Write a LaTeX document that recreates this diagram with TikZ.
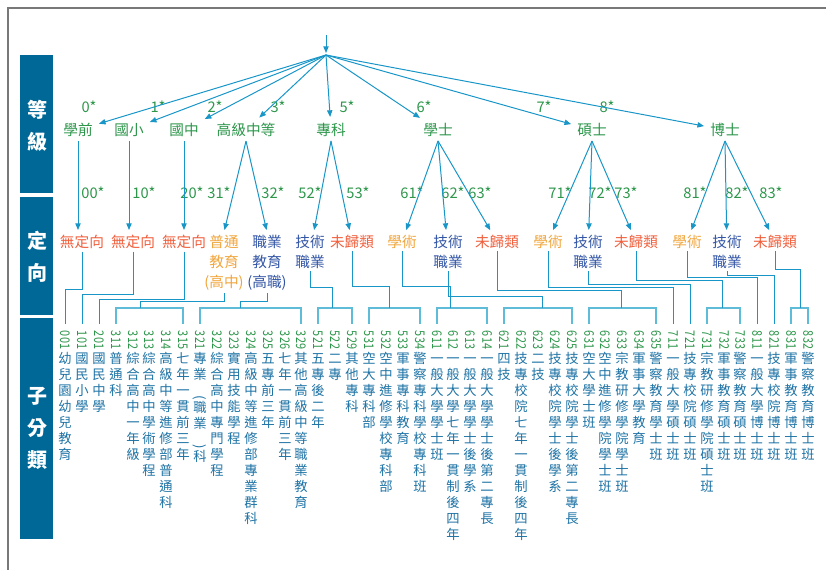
\documentclass[tikz,border=0pt]{standalone}
\usepackage{fontspec}
\setmainfont{Noto Sans CJK TC}
\usetikzlibrary{arrows.meta}

\definecolor{panelblue}{RGB}{0,104,150}
\definecolor{linkblue}{RGB}{25,150,200}
\definecolor{brkblue}{RGB}{95,188,216}
\definecolor{lvgreen}{RGB}{45,150,75}
\definecolor{orired}{RGB}{240,95,60}
\definecolor{oriorange}{RGB}{240,165,60}
\definecolor{oriblue}{RGB}{50,85,165}
\definecolor{subblue}{RGB}{30,115,165}
\definecolor{framegray}{RGB}{120,120,120}

% one character per line, code turned on its side on top
\def\stackloop#1{\ifx\relax#1\else\hbox to 10pt{\vrule height 9.5pt depth 2.5pt width 0pt\hss#1\hss}\expandafter\stackloop\fi}
\newcommand\subtext[2]{\vbox{\offinterlineskip
  \hbox to 10pt{\hss\rotatebox{-90}{\scalebox{0.82}[1]{\color{lvgreen}#1}}\hss}\kern1pt
  \stackloop#2\relax}}

\begin{document}
\begin{tikzpicture}[x=0.75pt,y=0.75pt,yscale=-1,xscale=1,
  lvl/.style={text=lvgreen,font=\fontsize{11}{14}\selectfont,inner sep=3pt},
  star/.style={text=lvgreen,font=\fontsize{11}{14}\selectfont,inner sep=0.75pt},
  ori/.style={anchor=north,align=center,font=\fontsize{11}{15}\selectfont,inner xsep=1pt,inner ysep=2pt},
  subcol/.style={anchor=north,text=subblue,font=\fontsize{10}{12}\selectfont,inner xsep=0pt,inner ysep=5pt},
  side/.style={text=white,align=center,font=\fontsize{15}{24}\selectfont\bfseries},
  arr/.style={draw=linkblue,line width=0.75pt,-{Triangle[length=5pt,width=4pt]},shorten >=1.5pt},
  link/.style={draw=linkblue,line width=0.75pt},
  brk/.style={draw=brkblue,line width=1.1pt}]
\useasboundingbox (0,0) rectangle (826,570);

%Shape: Frame
\draw[framegray,line width=1.2pt] (8,570) -- (8,8) -- (826,8);

%Shape: Side panels
\fill[panelblue] (20,55) rectangle (53,193);
\fill[panelblue] (20,197) rectangle (53,315);
\fill[panelblue] (20,318) rectangle (53,539);
\node[side] (pnlA) at (37,126) {等\\級};
\node[side] (pnlB) at (37,257) {定\\向};
\node[side] (pnlC) at (37,428) {子\\分\\類};

% Levels
\coordinate (top) at (326,35);
\coordinate (root) at (326,55);
\draw[arr] (top) -- (root);

\node[lvl] (lv0) at (78,130) {學前};
\node[lvl] (lv1) at (129,130) {國小};
\node[lvl] (lv2) at (184,130) {國中};
\node[lvl] (lv3) at (246,130) {高級中等};
\node[lvl] (lv5) at (331,130) {專科};
\node[lvl] (lv6) at (438,130) {學士};
\node[lvl] (lv7) at (592,130) {碩士};
\node[lvl] (lv8) at (725,130) {博士};

\node[star] (s0) at (89,107) {0*};
\node[star] (s1) at (158,107) {1*};
\node[star] (s2) at (215,107) {2*};
\node[star] (s3) at (278,107) {3*};
\node[star] (s5) at (347,107) {5*};
\node[star] (s6) at (424,107) {6*};
\node[star] (s7) at (544,107) {7*};
\node[star] (s8) at (607,107) {8*};

\foreach \l in {lv0,lv1,lv2,lv3,lv5,lv6,lv7,lv8}
  \draw[arr] (root) -- (\l);

% Orientations
\node[ori,text=orired] (o00) at (82,232) {無定向};
\node[ori,text=orired] (o10) at (133,232) {無定向};
\node[ori,text=orired] (o20) at (184,232) {無定向};
\node[ori,text=oriorange] (o31) at (224,232) {普通\\教育\\(高中)};
\node[ori,text=oriblue] (o32) at (267,232) {職業\\教育\\(高職)};
\node[ori,text=oriblue] (o52) at (310,232) {技術\\職業};
\node[ori,text=orired] (o53) at (352,232) {未歸類};
\node[ori,text=oriorange] (o61) at (402,232) {學術};
\node[ori,text=oriblue] (o62) at (448,232) {技術\\職業};
\node[ori,text=orired] (o63) at (497,232) {未歸類};
\node[ori,text=oriorange] (o71) at (548,232) {學術};
\node[ori,text=oriblue] (o72) at (588,232) {技術\\職業};
\node[ori,text=orired] (o73) at (636,232) {未歸類};
\node[ori,text=oriorange] (o81) at (687,232) {學術};
\node[ori,text=oriblue] (o82) at (727,232) {技術\\職業};
\node[ori,text=orired] (o83) at (775,232) {未歸類};

\node[star] (s00) at (93,193) {00*};
\node[star] (s10) at (144,193) {10*};
\node[star] (s20) at (192,193) {20*};
\node[star] (s31) at (219,193) {31*};
\node[star] (s32) at (273,193) {32*};
\node[star] (s52) at (310,193) {52*};
\node[star] (s53) at (358,193) {53*};
\node[star] (s61) at (412,193) {61*};
\node[star] (s62) at (453,193) {62*};
\node[star] (s63) at (480,193) {63*};
\node[star] (s71) at (560,193) {71*};
\node[star] (s72) at (600,193) {72*};
\node[star] (s73) at (626,193) {73*};
\node[star] (s81) at (695,193) {81*};
\node[star] (s82) at (737,193) {82*};
\node[star] (s83) at (771,193) {83*};

\draw[arr] (lv0.south) -- (lv0.south |- o00.north);
\draw[arr] (lv1.south) -- (lv1.south |- o10.north);
\draw[arr] (lv2.south) -- (lv2.south |- o20.north);
\draw[arr] (lv3.south) -- (o31.north);
\draw[arr] (lv3.south) -- (o32.north);
\draw[arr] (lv5.south) -- (o52);
\draw[arr] (lv5.south) -- (o53);
\draw[arr] (lv6.south) -- (o61);
\draw[arr] (lv6.south) -- (o62);
\draw[arr] (lv6.south) -- (o63);
\draw[arr] (lv7.south) -- (o71);
\draw[arr] (lv7.south) -- (o72);
\draw[arr] (lv7.south) -- (o73);
\draw[arr] (lv8.south) -- (o81);
\draw[arr] (lv8.south) -- (o82);
\draw[arr] (lv8.south) -- (o83);

% Sub categories
\node[subcol] (c001) at (65,324) {\subtext{001}{幼兒園幼兒教育}};
\node[subcol] (c101) at (82,324) {\subtext{101}{國民小學}};
\node[subcol] (c201) at (99,324) {\subtext{201}{國民中學}};
\node[subcol] (c311) at (116,324) {\subtext{311}{普通科}};
\node[subcol] (c312) at (133,324) {\subtext{312}{綜合高中一年級}};
\node[subcol] (c313) at (149,324) {\subtext{313}{綜合高中學術學程}};
\node[subcol] (c314) at (166,324) {\subtext{314}{高級中等進修部普通科}};
\node[subcol] (c315) at (183,324) {\subtext{315}{七年一貫前三年}};
\node[subcol] (c321) at (200,324) {\subtext{321}{專業{\rotatebox{-90}{(}}職業{\rotatebox{-90}{)}}科}};
\node[subcol] (c322) at (217,324) {\subtext{322}{綜合高中專門學程}};
\node[subcol] (c323) at (234,324) {\subtext{323}{實用技能學程}};
\node[subcol] (c324) at (251,324) {\subtext{324}{高級中等進修部專業群科}};
\node[subcol] (c325) at (268,324) {\subtext{325}{五專前三年}};
\node[subcol] (c326) at (285,324) {\subtext{326}{七年一貫前三年}};
\node[subcol] (c329) at (301,324) {\subtext{329}{其他高級中等職業教育}};
\node[subcol] (c521) at (318,324) {\subtext{521}{五專後二年}};
\node[subcol] (c522) at (335,324) {\subtext{522}{二專}};
\node[subcol] (c529) at (352,324) {\subtext{529}{其他專科}};
\node[subcol] (c531) at (369,324) {\subtext{531}{空大專科部}};
\node[subcol] (c532) at (386,324) {\subtext{532}{空中進修學校專科部}};
\node[subcol] (c533) at (403,324) {\subtext{533}{軍事專科教育}};
\node[subcol] (c534) at (420,324) {\subtext{534}{警察專科學校專科班}};
\node[subcol] (c611) at (437,324) {\subtext{611}{一般大學學士班}};
\node[subcol] (c612) at (453,324) {\subtext{612}{一般大學七年一貫制後四年}};
\node[subcol] (c613) at (470,324) {\subtext{613}{一般大學學士後學系}};
\node[subcol] (c614) at (487,324) {\subtext{614}{一般大學學士後第二專長}};
\node[subcol] (c621) at (504,324) {\subtext{621}{四技}};
\node[subcol] (c622) at (521,324) {\subtext{622}{技專校院七年一貫制後四年}};
\node[subcol] (c623) at (538,324) {\subtext{623}{二技}};
\node[subcol] (c624) at (555,324) {\subtext{624}{技專校院學士後學系}};
\node[subcol] (c625) at (572,324) {\subtext{625}{技專校院學士後第二專長}};
\node[subcol] (c631) at (589,324) {\subtext{631}{空大學士班}};
\node[subcol] (c632) at (605,324) {\subtext{632}{空中進修學院學士班}};
\node[subcol] (c633) at (622,324) {\subtext{633}{宗教研修學院學士班}};
\node[subcol] (c634) at (639,324) {\subtext{634}{軍事大學教育}};
\node[subcol] (c635) at (656,324) {\subtext{635}{警察教育學士班}};
\node[subcol] (c711) at (673,324) {\subtext{711}{一般大學碩士班}};
\node[subcol] (c721) at (690,324) {\subtext{721}{技專校院碩士班}};
\node[subcol] (c731) at (707,324) {\subtext{731}{宗教研修學院碩士班}};
\node[subcol] (c732) at (724,324) {\subtext{732}{軍事教育碩士班}};
\node[subcol] (c733) at (740,324) {\subtext{733}{警察教育碩士班}};
\node[subcol] (c811) at (757,324) {\subtext{811}{一般大學博士班}};
\node[subcol] (c821) at (774,324) {\subtext{821}{技專校院博士班}};
\node[subcol] (c831) at (791,324) {\subtext{831}{軍事教育博士班}};
\node[subcol] (c832) at (808,324) {\subtext{832}{警察教育博士班}};

% Brackets
\coordinate (b31) at (140,308);
\coordinate (b32) at (240,308);
\coordinate (b52) at (332,308);
\coordinate (b53) at (389,308);
\coordinate (b61) at (450,308);
\coordinate (b62) at (542,308);
\coordinate (b63) at (621,308);
\coordinate (b73) at (722,308);
\coordinate (b83) at (800,308);

\draw[brk] (c311.north) |- (b31) -| (c315.north);
\draw[brk] (c321.north) |- (b32) -| (c329.north);
\draw[brk] (c521.north) |- (b52) -| (c529.north);
\draw[brk] (c531.north) |- (b53) -| (c534.north);
\draw[brk] (c611.north) |- (b61) -| (c614.north);
\draw[brk] (c621.north) |- (b62) -| (c625.north);
\draw[brk] (c631.north) |- (b63) -| (c635.north);
\draw[brk] (c731.north) |- (b73) -| (c733.north);
\draw[brk] (c831.north) |- (b83) -| (c832.north);

% Links from orientations
\draw[link] (o00.south) |- (c001.north |- 0,290) -- (c001.north);
\draw[link] (o10.south) |- (c101.north |- 0,295) -- (c101.north);
\draw[link] (o20.south) |- (c201.north |- 0,300) -- (c201.north);
\draw[link] (o31.south) |- (b31 |- 0,302) -- (b31);
\draw[link] (o32.south) |- (b32 |- 0,302) -- (b32);
\draw[link] (o52.south) |- (b52 |- 0,288) -- (b52);
\draw[link] (o53.south) |- (b53 |- 0,287) -- (b53);
\draw[link] (o61.south) |- (b61 |- 0,287) -- (b61);
\draw[link] (o62.south) |- (b62 |- 0,297) -- (b62);
\draw[link] (o63.south) |- (b63 |- 0,291) -- (b63);
\draw[link] (o71.south) |- (c711.north |- 0,288) -- (c711.north);
\draw[link] (o72.south) |- (c721.north |- 0,285) -- (c721.north);
\draw[link] (o73.south) |- (b73 |- 0,281) -- (b73);
\draw[link] (o81.south) |- (c811.north |- 0,278) -- (c811.north);
\draw[link] (o82.south) |- (c821.north |- 0,276) -- (c821.north);
\draw[link] (o83.south) |- (b83 |- 0,270) -- (b83);

\end{tikzpicture}
\end{document}
